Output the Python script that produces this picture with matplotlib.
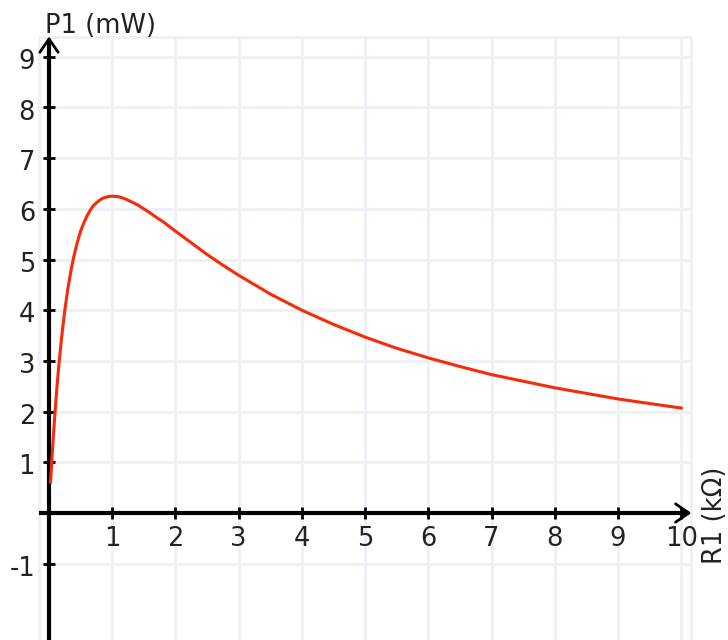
import numpy as np
import matplotlib.pyplot as plt

# values
r1_kohm = [0.025, 0.05, 0.075, 0.1, 0.125, 0.15, 0.2, 0.25, 0.3, 0.35, 0.4, 0.45, 0.5,
           0.55, 0.6, 0.65, 0.7, 0.75, 0.8, 0.85, 0.9, 0.95, 1.0, 1.1, 1.2, 1.3, 1.4,
           1.5, 1.6, 1.7, 1.8, 2.0, 2.25, 2.5, 2.75, 3.0, 3.5, 4.0, 4.5, 5.0, 5.5, 6.0,
           6.5, 7.0, 7.5, 8.0, 8.5, 9.0, 9.5, 10.0]
p1_mw = [0.61, 1.13, 1.62, 2.07, 2.47, 2.84, 3.47, 4.00, 4.44, 4.80, 5.10, 5.35, 5.56,
         5.72, 5.86, 5.97, 6.06, 6.12, 6.17, 6.21, 6.23, 6.245, 6.25, 6.24, 6.20, 6.14, 6.08,
         6.00, 5.92, 5.83, 5.75, 5.56, 5.33, 5.10, 4.89, 4.69, 4.32, 4.00, 3.72, 3.47, 3.25, 3.06,
         2.89, 2.73, 2.60, 2.47, 2.36, 2.25, 2.16, 2.07]
x_ticks = [1, 2, 3, 4, 5, 6, 7, 8, 9, 10]
y_ticks = [-1, 1, 2, 3, 4, 5, 6, 7, 8, 9]
x_label = "R1 (kΩ)"
y_label = "P1 (mW)"

GRID = '#edf1f6'
RED = '#f82a0a'
FS = 18.5

fig = plt.figure(figsize=(7.28, 6.40), dpi=100)
ax = fig.add_axes([0, 0, 1, 1])
ax.set_xlim(-0.775, 10.74)
ax.set_ylim(-2.505, 10.12)
ax.axis('off')

# grid box
gx0, gx1, gy1 = -0.16, 10.16, 9.39
for xv in x_ticks:
    ax.plot([xv, xv], [-2.6, gy1], color=GRID, lw=2, zorder=1)
for yv in y_ticks:
    ax.plot([gx0, gx1], [yv, yv], color=GRID, lw=2, zorder=1)
ax.plot([gx0, gx0, gx1, gx1], [-2.6, gy1, gy1, -2.6], color=GRID, lw=2, zorder=1)

# axes with arrow heads
ax.plot([gx0, 10.13], [0, 0], color='black', lw=3, zorder=3, solid_capstyle='butt')
ax.plot([0, 0], [-2.6, 9.36], color='black', lw=3, zorder=3, solid_capstyle='butt')
arrow = dict(arrowstyle='->, head_length=0.8, head_width=0.55', lw=2, color='black',
             mutation_scale=12, shrinkA=0, shrinkB=0)
ax.annotate('', xy=(gx1, 0), xytext=(9.5, 0), arrowprops=arrow, zorder=4)
ax.annotate('', xy=(0, 9.4), xytext=(0, 8.8), arrowprops=arrow, zorder=4)

# tick marks
ax.plot(x_ticks, [0] * len(x_ticks), ls='none', marker='|', ms=9, mew=2, color='black', zorder=4)
ax.plot([0] * len(y_ticks), y_ticks, ls='none', marker='_', ms=9, mew=2, color='black', zorder=4)

for xv in x_ticks:
    ax.text(xv, -0.52, str(xv), ha='center', va='center', fontsize=FS, color='#222222')
for yv in y_ticks:
    ax.text(-0.22, yv - 0.1, str(yv), ha='right', va='center', fontsize=FS, color='#222222')

ax.text(-0.06, 9.47, y_label, ha='left', va='baseline', fontsize=FS, color='#222222')
ax.text(10.54, -0.04, x_label, ha='center', va='center', rotation=90, fontsize=FS, color='#222222')

ax.plot(r1_kohm, p1_mw, color=RED, lw=2.2, zorder=5, solid_joinstyle='round')

fig.savefig('out.png', dpi=100)
